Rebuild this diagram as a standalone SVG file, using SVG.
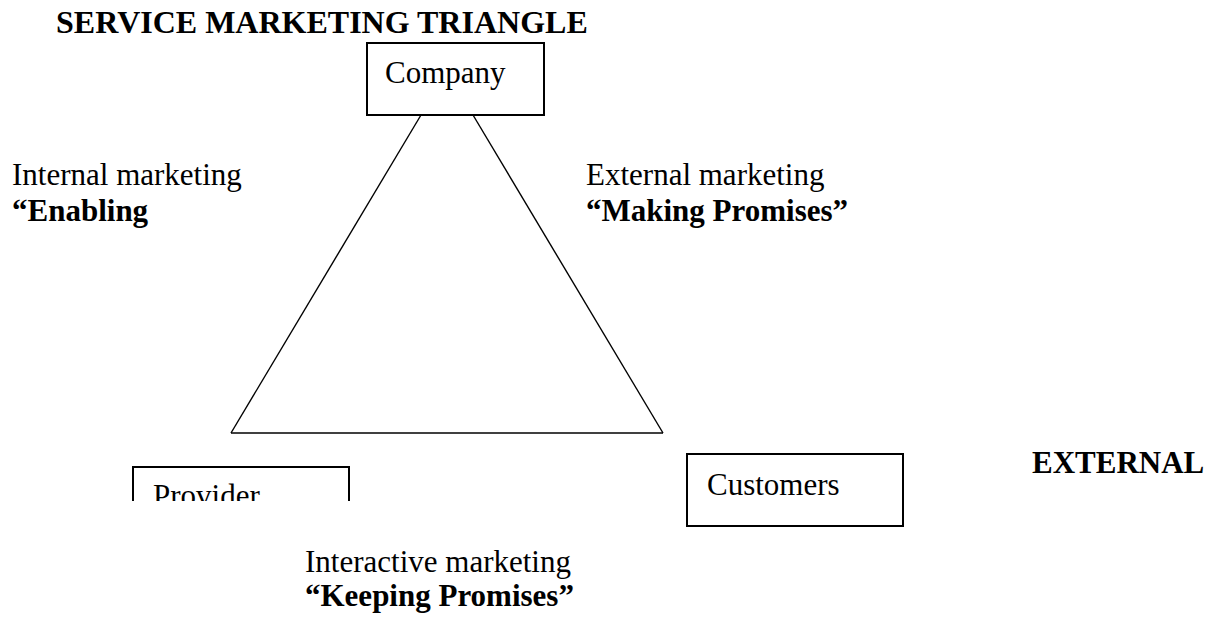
<svg xmlns="http://www.w3.org/2000/svg" width="1212" height="626" viewBox="0 0 1212 626">
  <style>
    text { font-family: "Liberation Serif", "Times New Roman", serif; font-size: 31px; fill: #000; }
    .b { font-weight: bold; }
    .box { fill: #fff; stroke: #000; stroke-width: 2; }
    .edge { stroke: #000; stroke-width: 1.4; fill: none; }
  </style>
  <defs>
    <clipPath id="provClip"><rect x="120" y="455" width="250" height="46"/></clipPath>
  </defs>
  <rect width="1212" height="626" fill="#fff"/>
  <g id="title"><text class="b" x="56" y="33" style="font-size:32px">SERVICE MARKETING TRIANGLE</text></g>
  <g id="connectors">
    <line class="edge" x1="421" y1="115" x2="231" y2="433"/>
    <line class="edge" x1="473" y1="115" x2="663" y2="433"/>
    <line class="edge" x1="231" y1="433" x2="663" y2="433"/>
  </g>
  <g id="company">
    <rect class="box" x="367" y="43" width="177" height="72"/>
    <text x="385" y="83">Company</text>
  </g>
  <g id="provider" clip-path="url(#provClip)">
    <rect class="box" x="133" y="467" width="216" height="60"/>
    <text x="153" y="506">Provider</text>
  </g>
  <g id="customers">
    <rect class="box" x="687" y="454" width="216" height="72"/>
    <text x="707" y="495">Customers</text>
  </g>
  <g id="external"><text class="b" x="1032" y="473">EXTERNAL</text></g>
  <g id="internal-marketing">
    <text x="12" y="185">Internal marketing</text>
    <text class="b" x="12" y="221">“Enabling</text>
  </g>
  <g id="external-marketing">
    <text x="586" y="185">External marketing</text>
    <text class="b" x="586" y="221">“Making Promises”</text>
  </g>
  <g id="interactive-marketing">
    <text x="305" y="572">Interactive marketing</text>
    <text class="b" x="305" y="606">“Keeping Promises”</text>
  </g>
</svg>
